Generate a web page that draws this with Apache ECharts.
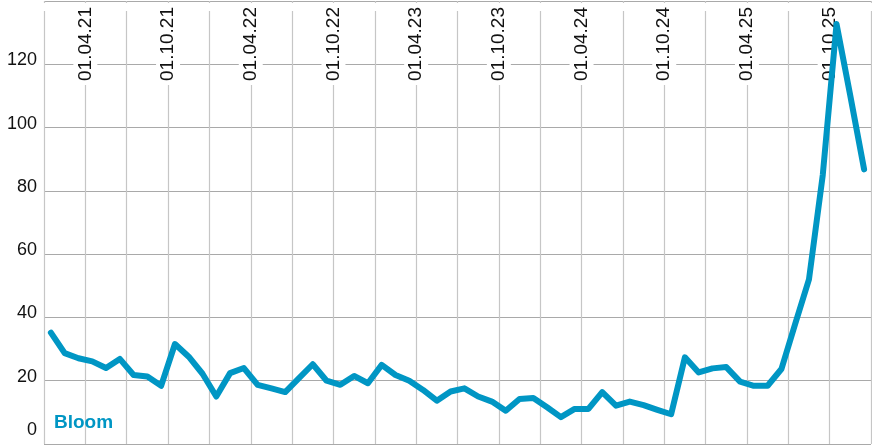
<!DOCTYPE html>
<html>
<head>
<meta charset="utf-8">
<script src="https://cdn.jsdelivr.net/npm/echarts@6/dist/echarts.min.js"></script>
<style>
html,body{margin:0;padding:0;background:#fff;}
#chart{width:872px;height:446px;}
</style>
</head>
<body>
<div id="chart"></div>
<script>
// Monthly values, January 2021 .. December 2025 (plotted at mid-month)
var startYear = 2021;
var seriesName = 'Bloom';
var values = [
  35.2, 28.7, 27.1, 26.1, 24.0, 26.9, 21.8, 21.3, 18.4, 31.6, 27.6, 22.2,
  15.0, 22.4, 24.0, 18.7, 17.6, 16.4, 20.8, 25.2, 20.0, 18.7, 21.5, 19.2,
  25.0, 21.8, 20.0, 17.1, 13.7, 16.6, 17.6, 15.0, 13.4, 10.5, 14.2, 14.5,
  11.6, 8.5, 11.1, 11.1, 16.4, 12.1, 13.4, 12.3, 10.8, 9.4, 27.4, 22.6,
  23.9, 24.3, 19.7, 18.4, 18.4, 23.7, 38.0, 52.0, 85.0, 132.7, 110.0, 86.8
];
var tickLabels = ['01.04.21','01.10.21','01.04.22','01.10.22','01.04.23',
                  '01.10.23','01.04.24','01.10.24','01.04.25','01.10.25'];
var yTicks = [0, 20, 40, 60, 80, 100, 120];

var data = values.map(function (v, i) { return [i + 0.5, v]; });
var blue = '#0096c4';
var font = "'Liberation Sans', Arial, Helvetica, sans-serif";

var chart = echarts.init(document.getElementById('chart'), null, {renderer: 'canvas'});
chart.setOption({
  animation: false,
  backgroundColor: '#fff',
  grid: {left: 44, right: 1, top: 1, bottom: 2, outerBoundsMode: 'none', containLabel: false},
  legend: {
    data: [seriesName],
    left: 49, top: 413, padding: 0,
    icon: 'none', itemWidth: 0, itemHeight: 0,
    selectedMode: false,
    textStyle: {color: blue, fontSize: 19, fontWeight: 'bold', fontFamily: font}
  },
  xAxis: [
    {
      type: 'value', min: 0, max: 60, interval: 3, position: 'bottom', z: 0,
      axisLine: {show: false}, axisTick: {show: false}, axisLabel: {show: false},
      splitLine: {show: true, lineStyle: {color: '#c6c6c6', width: 1.2}}
    },
    {
      type: 'value', min: 0, max: 60, interval: 3, position: 'top', z: 1,
      axisLine: {show: false}, axisTick: {show: false}, splitLine: {show: false},
      axisLabel: {
        show: true, inside: true, rotate: -90, margin: 2,
        fontSize: 19, fontFamily: font, color: '#111',
        backgroundColor: '#fff', padding: [3, 4, 3, 4], lineHeight: 18,
        formatter: function (v) {
          if ((v - 3) % 6 !== 0) return '';
          var idx = (v - 3) / 6;
          return tickLabels[idx] || '';
        }
      }
    }
  ],
  yAxis: {
    type: 'value', min: 0, max: 140, interval: 20, z: 0,
    axisLine: {show: false}, axisTick: {show: false},
    splitLine: {show: true, lineStyle: {color: '#a9a9a9', width: 1.2}},
    axisLabel: {
      margin: 7, fontSize: 18, fontFamily: font, color: '#111',
      verticalAlign: 'middle', padding: [0, 0, 8, 0],
      formatter: function (v) {
        if (yTicks.indexOf(v) < 0) return '';
        if (v === 0) return '{z|0}';
        return String(v);
      },
      rich: {z: {fontSize: 18, fontFamily: font, color: '#111', padding: [0, 0, 20, 0]}}
    }
  },
  series: [{
    name: seriesName,
    type: 'line',
    xAxisIndex: 0,
    data: data,
    showSymbol: false,
    symbol: 'none',
    z: 3,
    lineStyle: {color: blue, width: 6, cap: 'round', join: 'round'},
    itemStyle: {color: blue}
  }]
});
</script>
</body>
</html>
